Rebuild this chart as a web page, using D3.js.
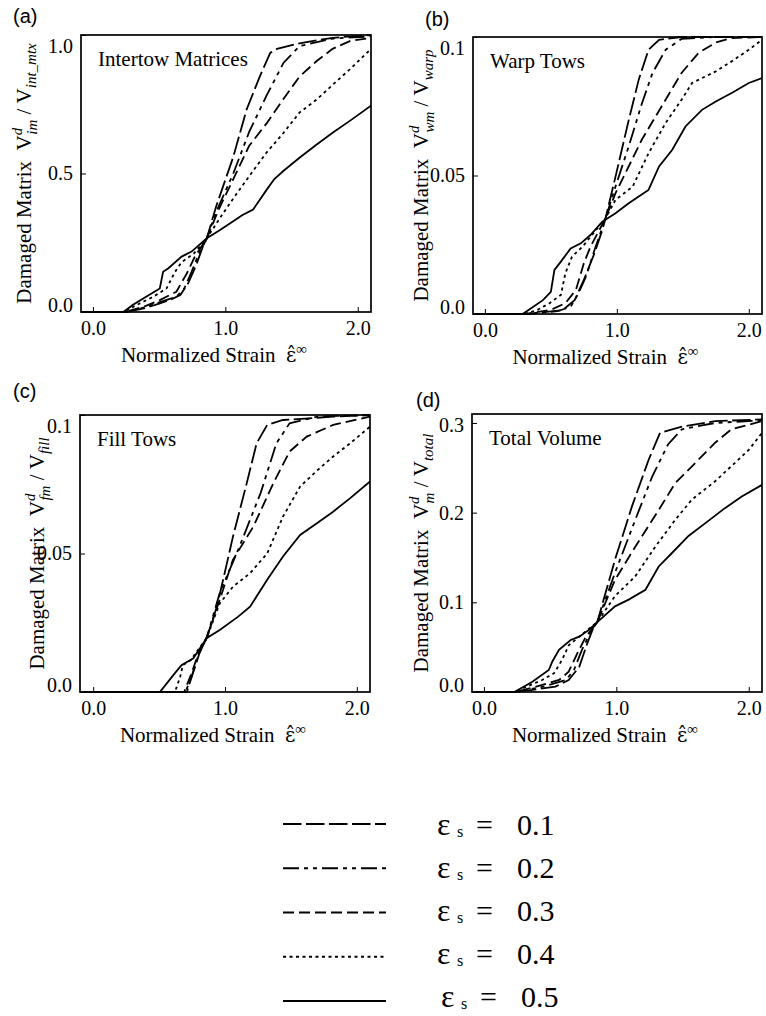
<!DOCTYPE html>
<html>
<head>
<meta charset="utf-8">
<script src="https://cdn.jsdelivr.net/npm/d3@7"></script>
<style>
  body { margin: 0; background: #fff; }
  svg { display: block; }
  text { font-family: "Liberation Serif", "Times New Roman", serif; fill: #000; }
  .letter { font-family: "Liberation Sans", Arial, sans-serif; }
</style>
</head>
<body>
<svg id="chart" width="766" height="1016"></svg>
<script>
// ---- data: [normalized strain, damaged fraction] ----
const strainTicks = [0, 1, 2];
const strainTickLabels = ['0.0', '1.0', '2.0'];
const epsLevels = ['0.1', '0.2', '0.3', '0.4', '0.5'];

// (a) intertow matrices
const intertowTicks = [0, 0.5, 1.0];
const intertowTickLabels = ['0.0', '0.5', '1.0'];
const intertow01 = [[-0.09,0],[0.25,0],[0.40,0.015],[0.50,0.03],[0.58,0.043],[0.66,0.061],[0.72,0.104],[0.78,0.17],[0.83,0.236],[0.86,0.266],[0.93,0.38],[1.06,0.56],[1.16,0.73],[1.26,0.85],[1.34,0.936],[1.39,0.95],[1.56,0.97],[1.81,0.99],[2.10,1.0]];
const intertow02 = [[-0.09,0],[0.25,0],[0.40,0.018],[0.50,0.035],[0.63,0.055],[0.69,0.085],[0.745,0.145],[0.795,0.205],[0.86,0.266],[0.93,0.36],[1.06,0.50],[1.18,0.65],[1.31,0.78],[1.44,0.90],[1.56,0.96],[1.81,0.987],[2.10,0.995]];
const intertow03 = [[-0.09,0],[0.24,0],[0.40,0.022],[0.505,0.043],[0.63,0.073],[0.71,0.14],[0.77,0.2],[0.86,0.266],[0.95,0.37],[1.06,0.48],[1.18,0.60],[1.31,0.68],[1.44,0.77],[1.56,0.85],[1.69,0.906],[1.81,0.95],[1.94,0.978],[2.10,0.99]];
const intertow04 = [[-0.09,0],[0.23,0],[0.35,0.03],[0.455,0.055],[0.556,0.085],[0.62,0.145],[0.67,0.18],[0.76,0.21],[0.86,0.266],[0.96,0.34],[1.06,0.41],[1.18,0.49],[1.31,0.575],[1.44,0.647],[1.56,0.72],[1.69,0.767],[1.81,0.82],[1.94,0.876],[2.10,0.95]];
const intertow05 = [[-0.09,0],[0.23,0],[0.30,0.025],[0.38,0.049],[0.505,0.085],[0.53,0.145],[0.57,0.158],[0.67,0.20],[0.745,0.218],[0.86,0.266],[0.96,0.296],[1.13,0.35],[1.21,0.37],[1.31,0.44],[1.37,0.48],[1.44,0.51],[1.56,0.557],[1.69,0.605],[1.81,0.647],[1.94,0.69],[2.10,0.745]];

// (b) warp tows
const warpTicks = [0, 0.05, 0.1];
const warpTickLabels = ['0.0', '0.05', '0.1'];
const warp01 = [[-0.09,0],[0.33,0],[0.59,0.0014],[0.68,0.005],[0.75,0.0123],[0.83,0.0219],[0.89,0.0303],[0.914,0.0345],[0.99,0.0496],[1.09,0.070],[1.166,0.0846],[1.24,0.0954],[1.32,0.099],[1.49,0.1],[2.10,0.1]];
const warp02 = [[-0.09,0],[0.32,0],[0.55,0.001],[0.65,0.0026],[0.71,0.0075],[0.77,0.014],[0.83,0.023],[0.914,0.0345],[0.99,0.046],[1.09,0.0605],[1.19,0.076],[1.27,0.087],[1.37,0.0954],[1.49,0.0993],[1.75,0.1],[2.10,0.1]];
const warp03 = [[-0.09,0],[0.31,0],[0.50,0.0015],[0.61,0.0039],[0.69,0.0087],[0.75,0.0183],[0.80,0.0243],[0.914,0.0345],[0.99,0.0436],[1.19,0.063],[1.34,0.075],[1.49,0.087],[1.62,0.0943],[1.75,0.098],[1.87,0.0996],[2.10,0.1]];
const warp04 = [[-0.09,0],[0.30,0],[0.40,0.0015],[0.49,0.0039],[0.576,0.0069],[0.61,0.0147],[0.66,0.0207],[0.74,0.0243],[0.914,0.0345],[0.99,0.0412],[1.12,0.046],[1.24,0.058],[1.37,0.069],[1.49,0.0773],[1.57,0.0834],[1.75,0.0876],[1.87,0.0912],[2.0,0.0954],[2.10,0.099]];
const warp05 = [[-0.09,0],[0.286,0],[0.44,0.005],[0.50,0.008],[0.527,0.0159],[0.576,0.0189],[0.65,0.0237],[0.727,0.0255],[0.80,0.0285],[0.89,0.0333],[0.99,0.0364],[1.09,0.040],[1.166,0.0424],[1.24,0.0448],[1.32,0.0533],[1.42,0.0593],[1.52,0.0677],[1.645,0.0737],[1.75,0.0767],[1.87,0.0798],[2.0,0.0834],[2.10,0.0852]];

// (c) fill tows
const fillTicks = [0, 0.05, 0.1];
const fillTickLabels = ['0.0', '0.05', '0.1'];
const fill01 = [[-0.10,0],[0.71,0],[0.76,0.0073],[0.81,0.0145],[0.86,0.0194],[0.94,0.031],[1.06,0.056],[1.165,0.0754],[1.24,0.0898],[1.32,0.0964],[1.44,0.0982],[1.82,0.0994],[2.10,0.1]];
const fill02 = [[-0.10,0],[0.70,0],[0.75,0.006],[0.80,0.0135],[0.86,0.0194],[0.96,0.0357],[1.11,0.0525],[1.27,0.0718],[1.39,0.0898],[1.49,0.097],[1.70,0.0994],[2.10,0.1]];
const fill03 = [[-0.10,0],[0.69,0],[0.74,0.006],[0.80,0.014],[0.86,0.0194],[0.96,0.0333],[1.06,0.0477],[1.215,0.0597],[1.367,0.0754],[1.49,0.0868],[1.62,0.0922],[1.82,0.0964],[2.10,0.0994]];
const fill04 = [[-0.10,0],[0.62,0],[0.66,0.0055],[0.68,0.0097],[0.74,0.0115],[0.80,0.0155],[0.86,0.0194],[0.96,0.032],[1.06,0.038],[1.19,0.0429],[1.32,0.050],[1.44,0.0633],[1.57,0.0742],[1.70,0.080],[1.82,0.085],[1.95,0.0898],[2.10,0.0958]];
const fill05 = [[-0.10,0],[0.506,0],[0.62,0.0068],[0.67,0.0097],[0.76,0.0122],[0.835,0.0176],[0.86,0.0194],[0.96,0.0224],[1.10,0.0272],[1.19,0.0308],[1.32,0.0405],[1.44,0.0489],[1.57,0.0567],[1.70,0.061],[1.82,0.0651],[1.95,0.070],[2.10,0.076]];

// (d) total volume
const totalTicks = [0, 0.1, 0.2, 0.3];
const totalTickLabels = ['0.0', '0.1', '0.2', '0.3'];
const total01 = [[-0.09,0],[0.25,0],[0.54,0.006],[0.64,0.0134],[0.72,0.028],[0.78,0.054],[0.83,0.073],[0.856,0.078],[0.99,0.1476],[1.118,0.207],[1.244,0.259],[1.33,0.289],[1.495,0.296],[1.746,0.302],[2.10,0.304]];
const total02 = [[-0.09,0],[0.24,0],[0.45,0.006],[0.62,0.0134],[0.68,0.0245],[0.74,0.047],[0.806,0.067],[0.856,0.078],[0.99,0.133],[1.143,0.192],[1.27,0.24],[1.39,0.276],[1.495,0.293],[1.746,0.30],[2.10,0.303]];
const total03 = [[-0.09,0],[0.24,0],[0.42,0.007],[0.567,0.0134],[0.64,0.0226],[0.705,0.043],[0.77,0.0617],[0.856,0.078],[0.99,0.125],[1.143,0.162],[1.32,0.203],[1.445,0.233],[1.62,0.259],[1.746,0.278],[1.87,0.293],[2.10,0.302]];
const total04 = [[-0.09,0],[0.23,0],[0.44,0.0134],[0.53,0.021],[0.59,0.0357],[0.64,0.052],[0.72,0.0617],[0.856,0.078],[0.99,0.107],[1.143,0.129],[1.294,0.162],[1.445,0.192],[1.57,0.2145],[1.746,0.235],[1.87,0.252],[2.0,0.27],[2.10,0.289]];
const total05 = [[-0.09,0],[0.23,0],[0.366,0.0115],[0.49,0.0245],[0.517,0.034],[0.567,0.047],[0.655,0.058],[0.72,0.0617],[0.79,0.069],[0.856,0.078],[0.99,0.0955],[1.093,0.103],[1.22,0.114],[1.32,0.14],[1.42,0.155],[1.545,0.174],[1.67,0.188],[1.82,0.205],[1.947,0.218],[2.10,0.231]];

// line styles for eps_s = 0.1 ... 0.5
const dashes = ['18.5,4.5', '16,5,4,5,4,5', '11,5', '3,3.5', null];

const panels = [
  {letter: '(a)', title: 'Intertow Matrices', left: 81, top: 35, right: 371, bottom: 312, yMax: 1.0,
   ticks: intertowTicks, tickLabels: intertowTickLabels, series: [intertow01, intertow02, intertow03, intertow04, intertow05],
   sub: 'im', den: 'int_mtx', labelX: 31, letterX: 13, letterY: 23},
  {letter: '(b)', title: 'Warp Tows', left: 473, top: 37, right: 762, bottom: 314, yMax: 0.1,
   ticks: warpTicks, tickLabels: warpTickLabels, series: [warp01, warp02, warp03, warp04, warp05],
   sub: 'wm', den: 'warp', labelX: 428, letterX: 425, letterY: 26},
  {letter: '(c)', title: 'Fill Tows', left: 80, top: 415, right: 370, bottom: 692, yMax: 0.1,
   ticks: fillTicks, tickLabels: fillTickLabels, series: [fill01, fill02, fill03, fill04, fill05],
   sub: 'fm', den: 'fill', labelX: 44, letterX: 13, letterY: 398},
  {letter: '(d)', title: 'Total Volume', left: 472, top: 414, right: 762, bottom: 692, yMax: 0.31,
   ticks: totalTicks, tickLabels: totalTickLabels, series: [total01, total02, total03, total04, total05],
   sub: 'm', den: 'total', labelX: 428, letterX: 416, letterY: 407}
];

const svg = d3.select('#chart');

panels.forEach((p, i) => {
  const x = d3.scaleLinear().domain([p.series[4][0][0], 2.10]).range([p.left, p.right]);
  const y = d3.scaleLinear().domain([0, p.yMax]).range([p.bottom, p.top]);
  const g = svg.append('g');

  const clipId = `clip${i}`;
  g.append('clipPath').attr('id', clipId)
    .append('rect').attr('x', p.left).attr('y', p.top - 2)
    .attr('width', p.right - p.left).attr('height', p.bottom - p.top + 3);

  const line = d3.line().x(d => x(d[0])).y(d => y(d[1]));
  g.append('g').attr('clip-path', `url(#${clipId})`)
    .selectAll('path').data(p.series).join('path')
    .attr('d', line)
    .attr('fill', 'none')
    .attr('stroke', '#000')
    .attr('stroke-width', 1.8)
    .attr('stroke-dasharray', (d, k) => dashes[k]);

  // frame
  g.append('rect')
    .attr('x', p.left).attr('y', p.top)
    .attr('width', p.right - p.left).attr('height', p.bottom - p.top)
    .attr('fill', 'none').attr('stroke', '#000').attr('stroke-width', 1.7);

  // x axis, ticks pointing inward
  const xAxis = g.append('g').attr('transform', `translate(0,${p.bottom})`)
    .call(d3.axisBottom(x).tickValues(strainTicks).tickSize(-5).tickPadding(9)
      .tickFormat((d, k) => strainTickLabels[k]));
  xAxis.select('.domain').remove();
  xAxis.selectAll('text').style('font-size', '20px').style('font-family', '"Liberation Serif", serif');

  // y axis
  const yAxis = g.append('g').attr('transform', `translate(${p.left},0)`)
    .call(d3.axisLeft(y).tickValues(p.ticks).tickSize(-5).tickPadding(8)
      .tickFormat((d, k) => p.tickLabels[k]));
  yAxis.select('.domain').remove();
  yAxis.selectAll('text').style('font-size', '20px').style('font-family', '"Liberation Serif", serif')
    .attr('y', d => {
      const c = Math.min(Math.max(y(d), p.top + 11), p.bottom - 7);
      return c - y(d);
    });

  // panel title
  g.append('text').attr('x', p.left + 17).attr('y', p.top + 31)
    .style('font-size', '21px').text(p.title);

  // panel letter
  g.append('text').attr('class', 'letter').attr('x', p.letterX).attr('y', p.letterY)
    .style('font-size', '20px').text(p.letter);

  // x label
  const xl = g.append('text').attr('x', (p.left + p.right) / 2 - 12).attr('y', p.bottom + 50)
    .attr('text-anchor', 'middle').style('font-size', '21px');
  xl.append('tspan').text('Normalized Strain\u00a0\u00a0');
  xl.append('tspan').style('font-family', '"DejaVu Serif", serif').style('font-size', '20px').text('\u03b5\u0302');
  xl.append('tspan').attr('dy', -8).style('font-size', '15px').text('\u221e');

  // y label
  const cy = (p.top + p.bottom) / 2;
  const yl = g.append('text').attr('transform', `translate(${p.labelX},${cy}) rotate(-90)`)
    .attr('text-anchor', 'middle').style('font-size', '21px');
  yl.append('tspan').text('Damaged Matrix\u00a0\u00a0V');
  yl.append('tspan').attr('dy', -9).style('font-size', '15px').style('font-style', 'italic').text('d');
  yl.append('tspan').attr('dx', -7).attr('dy', 15).style('font-size', '15px').style('font-style', 'italic').text(p.sub);
  yl.append('tspan').attr('dy', -6).text('\u00a0/\u00a0V');
  yl.append('tspan').attr('dy', 5).style('font-size', '15px').style('font-style', 'italic').text(p.den);
});

// legend: line rows and text rows sit on slightly different spacings
const legendLineY = d3.scalePoint().domain(epsLevels).range([824, 1001]);
const legendTextY = d3.scalePoint().domain(epsLevels).range([835, 1007]);
const legend = svg.append('g').selectAll('g').data(epsLevels).join('g');
legend.append('line')
  .attr('x1', 283).attr('x2', 386)
  .attr('y1', d => legendLineY(d)).attr('y2', d => legendLineY(d))
  .attr('stroke', '#000').attr('stroke-width', 1.8)
  .attr('stroke-dasharray', (d, k) => dashes[k]);
legend.append('text').attr('x', (d, k) => 437 + (k === 4 ? 4 : 0)).attr('y', d => legendTextY(d))
  .style('font-size', '32px').text('\u03b5');
legend.append('text').attr('x', (d, k) => 457 + (k === 4 ? 4 : 0)).attr('y', d => legendTextY(d) + 2)
  .style('font-size', '16px').text('s');
legend.append('text').attr('x', (d, k) => 476 + (k === 4 ? 4 : 0)).attr('y', d => legendTextY(d))
  .style('font-size', '30px').text('=');
legend.append('text').attr('x', (d, k) => 517 + (k === 4 ? 4 : 0)).attr('y', d => legendTextY(d))
  .style('font-size', '30px').text(d => d);
</script>
</body>
</html>
